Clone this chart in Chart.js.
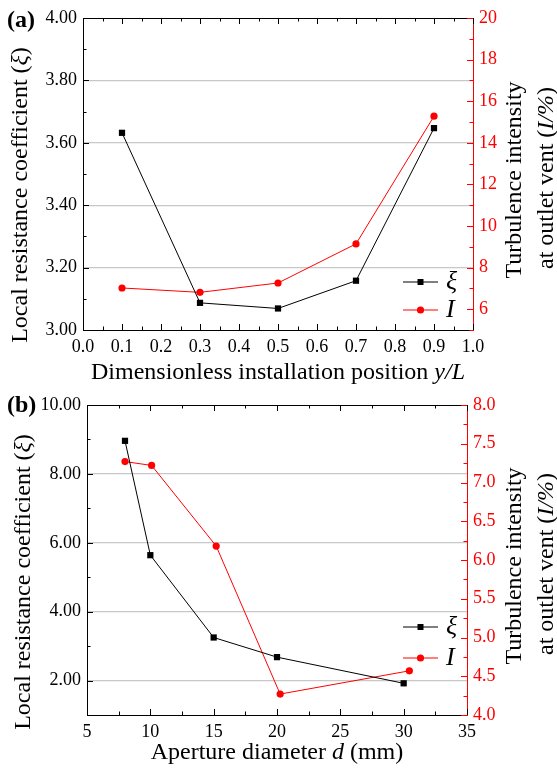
<!DOCTYPE html>
<html>
<head>
<meta charset="utf-8">
<script src="https://cdn.jsdelivr.net/npm/chart.js@4.4.1/dist/chart.umd.min.js"></script>
<style>
  html, body { margin: 0; padding: 0; background: #fff; }
  #wrap { position: relative; width: 557px; height: 770px; }
  canvas { position: absolute; left: 0; }
  #chartA { top: 0; }
  #chartB { top: 385px; }
</style>
</head>
<body>
<div id="wrap">
  <canvas id="chartA" width="557" height="385"></canvas>
  <canvas id="chartB" width="557" height="385"></canvas>
</div>
<script>
// (a) dimensionless installation position
const posYL = [0.1, 0.3, 0.5, 0.7, 0.9];
const xiA = [3.632, 3.087, 3.069, 3.158, 3.647];
const turbA = [7.02, 6.81, 7.26, 9.14, 15.28];

// (b) aperture diameter, mm
const diamXi = [8, 10, 15, 20, 30];
const xiB = [8.96, 5.64, 3.25, 2.68, 1.92];
const diamTurb = [8, 10.1, 15.2, 20.25, 30.45];
const turbB = [7.27, 7.22, 6.18, 4.27, 4.57];

// axis ticks: [min, max, minor step, labelled step, decimals]
const ticksAx = [0, 1, 0.05, 0.1, 1];
const ticksAy = [3, 4, 0.1, 0.2, 2];
const ticksAy1 = [5, 20, 1, 2, 0];
const ticksBx = [5, 35, 2.5, 5, 0];
const ticksBy = [1, 10, 1, 2, 2];
const ticksBy1 = [4, 8, 0.25, 0.5, 1];

const SERIF = '"Liberation Serif", "Times New Roman", serif';
const RED = '#ff0000';

function isMajor(v, step) {
    const k = v / step;
    return Math.abs(k - Math.round(k)) < 1e-6;
}

function font(size, style) {
    return (style || '') + ' ' + size + 'px ' + SERIF;
}

// text made of plain/italic pieces, centred on (x, y)
function richText(ctx, segs, x, y, rotate) {
    ctx.save();
    ctx.translate(x, y);
    if (rotate) ctx.rotate(-Math.PI / 2);
    ctx.textBaseline = 'middle';
    ctx.textAlign = 'left';
    ctx.fillStyle = '#000';
    let total = 0;
    const widths = segs.map(s => {
        ctx.font = font(24, s[1] ? 'italic' : '');
        const w = ctx.measureText(s[0]).width;
        total += w;
        return w;
    });
    let cx = -total / 2;
    segs.forEach((s, i) => {
        ctx.font = font(24, s[1] ? 'italic' : '');
        ctx.fillText(s[0], cx, 0);
        cx += widths[i];
    });
    ctx.restore();
}

function axis(t, color, pos, fit) {
    const [min, max, step, major, dec] = t;
    return {
        type: 'linear',
        position: pos,
        min: min,
        max: max,
        ticks: {
            stepSize: step,
            maxTicksLimit: 200,
            autoSkip: false,
            maxRotation: 0,
            padding: 6,
            color: color,
            font: { family: SERIF, size: 18 },
            callback: v => isMajor(v, major) ? v.toFixed(dec) : ''
        },
        grid: { display: false, drawTicks: false },
        border: { display: true, color: color, width: 1 },
        afterFit: fit
    };
}

function drawTicks(ctx, scale, side, color, area) {
    ctx.strokeStyle = color;
    ctx.lineWidth = 1;
    scale.ticks.forEach(t => {
        const p = Math.round(scale.getPixelForValue(t.value)) + 0.5;
        const len = t.label !== '' ? 6 : 3.5;
        ctx.beginPath();
        if (side === 'bottom') { ctx.moveTo(p, area.bottom); ctx.lineTo(p, area.bottom - len); }
        if (side === 'top') { ctx.moveTo(p, area.top); ctx.lineTo(p, area.top + len); }
        if (side === 'left') { ctx.moveTo(area.left, p); ctx.lineTo(area.left + len, p); }
        if (side === 'right') { ctx.moveTo(area.right, p); ctx.lineTo(area.right - len, p); }
        ctx.stroke();
    });
}

function makeChart(id, cfg) {
    const extras = {
        id: 'extras',
        afterDraw(chart) {
            const ctx = chart.ctx;
            const a = chart.chartArea;
            ctx.save();
            // top frame line
            ctx.strokeStyle = '#000';
            ctx.lineWidth = 1;
            ctx.beginPath();
            ctx.moveTo(a.left, Math.round(a.top) + 0.5);
            ctx.lineTo(a.right, Math.round(a.top) + 0.5);
            ctx.stroke();
            drawTicks(ctx, chart.scales.x, 'bottom', '#000', a);
            drawTicks(ctx, chart.scales.x, 'top', '#000', a);
            drawTicks(ctx, chart.scales.y, 'left', '#000', a);
            drawTicks(ctx, chart.scales.y1, 'right', RED, a);

            // legend inside the plot
            chart.data.datasets.forEach((ds, i) => {
                const ly = cfg.legendY[i];
                const lx0 = cfg.legendX, lx1 = cfg.legendX + 35;
                ctx.strokeStyle = ds.borderColor;
                ctx.lineWidth = 1;
                ctx.beginPath();
                ctx.moveTo(lx0, ly);
                ctx.lineTo(lx1, ly);
                ctx.stroke();
                ctx.fillStyle = ds.backgroundColor;
                ctx.beginPath();
                if (ds.pointStyle === 'rect') {
                    ctx.rect((lx0 + lx1) / 2 - 3, ly - 3, 6, 6);
                } else {
                    ctx.arc((lx0 + lx1) / 2, ly, ds.pointRadius, 0, Math.PI * 2);
                }
                ctx.fill();
                ctx.fillStyle = '#000';
                ctx.font = font(26, 'italic');
                ctx.textBaseline = 'middle';
                ctx.textAlign = 'left';
                ctx.fillText(ds.label, lx1 + 8, ly);
            });

            // panel letter
            ctx.fillStyle = '#000';
            ctx.font = font(24, 'bold');
            ctx.textBaseline = 'middle';
            ctx.textAlign = 'left';
            ctx.fillText(cfg.panel, 7, cfg.panelY);

            // axis titles
            const midY = (a.top + a.bottom) / 2;
            richText(ctx, cfg.xTitle, (a.left + a.right) / 2, cfg.xTitleY, false);
            richText(ctx, cfg.yTitle, cfg.yTitleX, cfg.yTitleY, true);
            richText(ctx, [['Turbulence intensity', false]], 515, midY + 6, true);
            richText(ctx, [['at outlet vent (', false], ['I/%', true], [')', false]], 547, midY + 4, true);
            ctx.restore();
        }
    };

    const yAxis = axis(cfg.ty, '#000', 'left', s => { s.width = cfg.left; });
    yAxis.grid = {
        display: true,
        drawTicks: false,
        lineWidth: 1.2,
        color: c => (c.tick && isMajor(c.tick.value, cfg.ty[3]) &&
            c.tick.value > cfg.ty[0] && c.tick.value < cfg.ty[1]) ? '#c8c8c8' : 'rgba(0,0,0,0)'
    };

    return new Chart(document.getElementById(id), {
        type: 'scatter',
        data: {
            datasets: [{
                label: 'ξ',
                data: cfg.xiX.map((x, i) => ({ x: x, y: cfg.xi[i] })),
                yAxisID: 'y',
                showLine: true,
                borderColor: '#000',
                backgroundColor: '#000',
                borderWidth: 1,
                pointStyle: 'rect',
                pointRadius: 4.4,
                pointBorderWidth: 0
            }, {
                label: 'I',
                data: cfg.tiX.map((x, i) => ({ x: x, y: cfg.ti[i] })),
                yAxisID: 'y1',
                showLine: true,
                borderColor: RED,
                backgroundColor: RED,
                borderWidth: 1,
                pointStyle: 'circle',
                pointRadius: 3.6,
                pointBorderWidth: 0
            }]
        },
        options: {
            responsive: false,
            animation: false,
            layout: { padding: { top: cfg.top, left: 0, right: 0, bottom: 0 } },
            plugins: { legend: { display: false }, tooltip: { enabled: false } },
            scales: {
                x: axis(cfg.tx, '#000', 'bottom', s => { s.height = 55; }),
                y: yAxis,
                y1: axis(cfg.ty1, RED, 'right', s => { s.width = cfg.right; })
            }
        },
        plugins: [extras]
    });
}

makeChart('chartA', {
    xiX: posYL, xi: xiA, tiX: posYL, ti: turbA,
    tx: ticksAx, ty: ticksAy, ty1: ticksAy1,
    top: 18, left: 83, right: 84,
    legendX: 403, legendY: [282, 310],
    panel: '(a)', panelY: 21,
    xTitle: [['Dimensionless installation position ', false], ['y/L', true]],
    xTitleY: 373,
    yTitle: [['Local resistance coefficient (', false], ['ξ', true], [')', false]],
    yTitleX: 21, yTitleY: 195
});

makeChart('chartB', {
    xiX: diamXi, xi: xiB, tiX: diamTurb, ti: turbB,
    tx: ticksBx, ty: ticksBy, ty1: ticksBy1,
    top: 20, left: 87, right: 90,
    legendX: 403, legendY: [242, 273],
    panel: '(b)', panelY: 21,
    xTitle: [['Aperture diameter ', false], ['d', true], [' (mm)', false]],
    xTitleY: 368,
    yTitle: [['Local resistance coefficient (', false], ['ξ', true], [')', false]],
    yTitleX: 24, yTitleY: 197
});
</script>
</body>
</html>
